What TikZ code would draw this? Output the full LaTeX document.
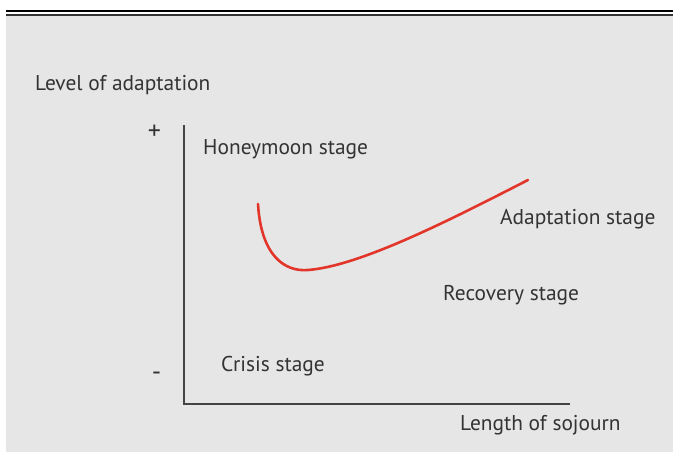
\documentclass[tikz,border=0pt]{standalone}
\usepackage{fontspec}
\setmainfont{PT Sans}
\begin{document}
\begin{tikzpicture}[x=1pt,y=-1pt,
  lbl/.style={inner sep=0pt, text=txt, font=\fontsize{21.4}{24}\selectfont, anchor=base west},
  sign/.style={inner sep=0pt, text=txt, font=\fontsize{26}{28}\selectfont, anchor=center},
  axis/.style={draw=axisc, line width=2pt},
  curve/.style={draw=curvec, line width=2.6pt, line cap=round}]
\definecolor{bg}{HTML}{E6E6E7}
\definecolor{txt}{HTML}{333333}
\definecolor{axisc}{HTML}{444444}
\definecolor{curvec}{HTML}{E2362A}
\useasboundingbox (0,0) rectangle (673,452);
\fill[white] (0,0) rectangle (673,452);
\fill[bg] (6,16) rectangle (673,452);
\draw[line width=1.8pt, black] (6,11) -- (673,11);
\draw[line width=2pt, black!80] (6,15.5) -- (673,15.5);
% axes
\coordinate (ytop) at (184,125);
\coordinate (origin) at (184,404);
\coordinate (xend) at (570,404);
\draw[axis] (ytop) -- (origin) -- (xend);
% labels
\node[lbl] (ylab) at (35,91) {Level of adaptation};
\node[sign] (plus) at (154.5,132.5) {+};
\node[sign] (minus) at (156.5,376) {-};
\node[lbl] (honey) at (203,154.5) {Honeymoon stage};
\node[lbl] (adapt) at (500,224) {Adaptation stage};
\node[lbl] (recov) at (443,300.5) {Recovery stage};
\node[lbl] (crisis) at (221,371.5) {Crisis stage};
\node[lbl] (xlab) at (460,430.5) {Length of sojourn};
% curve
\coordinate (c0) at (258,204);
\coordinate (cmin) at (308,270);
\coordinate (c1) at (528,180);
\draw[curve] (c0) .. controls (261,255) and (284,272) .. (cmin)
  .. controls (360,266) and (450,220) .. (c1);
\end{tikzpicture}
\end{document}
